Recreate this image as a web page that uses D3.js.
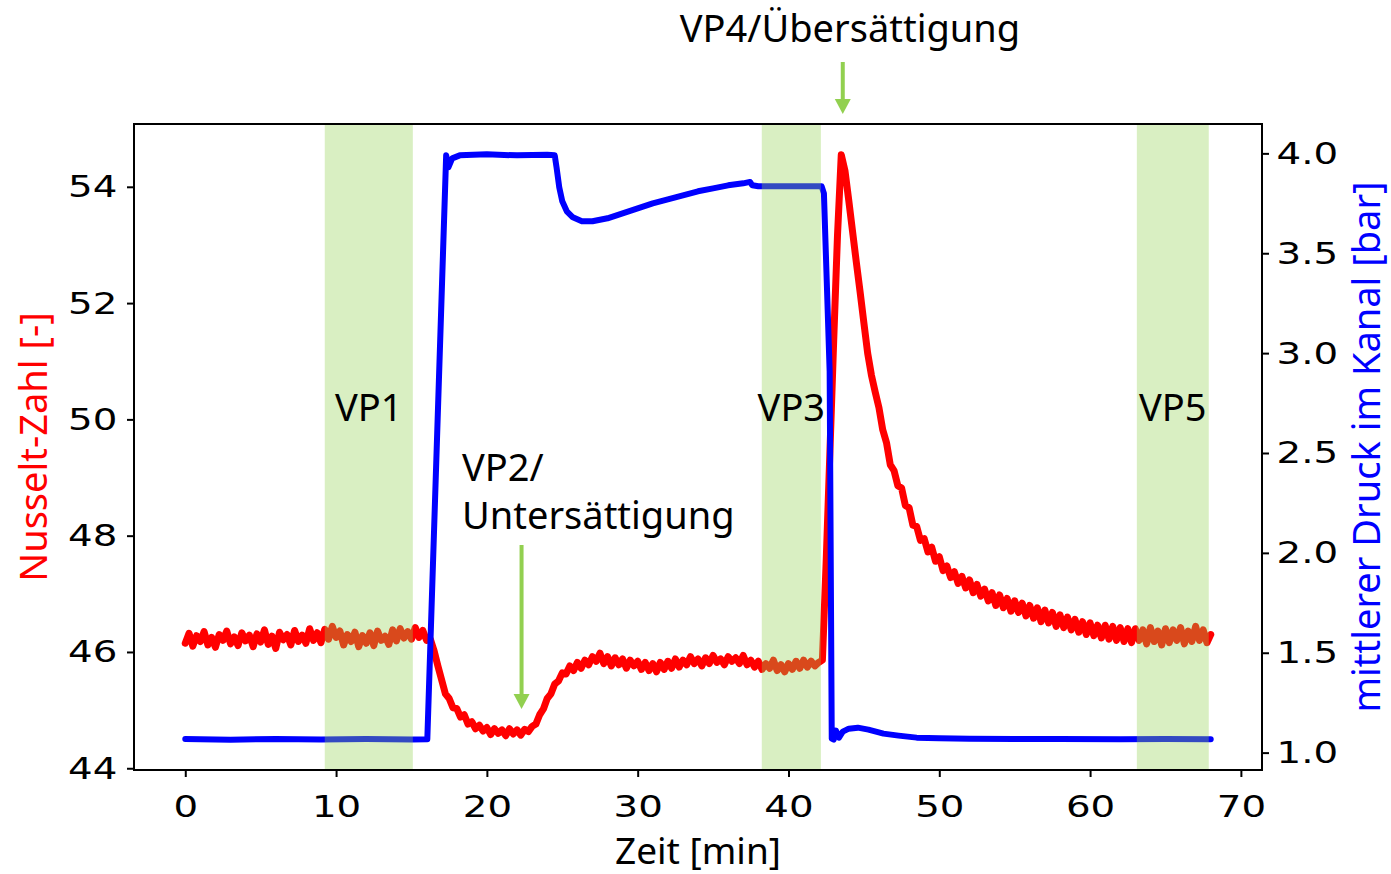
<!DOCTYPE html>
<html>
<head>
<meta charset="utf-8">
<script src="https://cdn.jsdelivr.net/npm/d3@7"></script>
<style>
  body { margin: 0; background: #fff; }
  svg { display: block; }
</style>
</head>
<body>
<svg id="chart" width="1391" height="874"></svg>
<script>
// Nusselt number, sampled every 0.25 min starting at t = 0 (one row per minute)
const nusseltStart = 0;
const nusseltStep = 0.25;
const nusseltValues = [
  46.15, 46.32, 46.10, 46.28,
  46.18, 46.35, 46.12, 46.25,
  46.08, 46.30, 46.20, 46.36,
  46.14, 46.26, 46.11, 46.33,
  46.19, 46.29, 46.09, 46.31,
  46.17, 46.38, 46.13, 46.27,
  46.06, 46.34, 46.21, 46.30,
  46.12, 46.37, 46.18, 46.29,
  46.15, 46.40, 46.20, 46.33,
  46.16, 46.39, 46.22, 46.44,
  46.25, 46.36, 46.12, 46.30,
  46.18, 46.34, 46.09, 46.28,
  46.15, 46.33, 46.11, 46.36,
  46.20, 46.27, 46.13, 46.38,
  46.19, 46.40, 46.24, 46.35,
  46.22, 46.42, 46.25, 46.37,
  46.20, 46.22, 46.02, 45.76,
  45.52, 45.28, 45.20, 45.04,
  45.03, 44.88, 44.92, 44.76,
  44.80, 44.68, 44.74, 44.64,
  44.70, 44.58, 44.68, 44.60,
  44.66, 44.56, 44.68, 44.59,
  44.66, 44.57, 44.67, 44.63,
  44.72, 44.76, 44.92, 45.02,
  45.20, 45.28, 45.45, 45.50,
  45.64, 45.62, 45.76, 45.68,
  45.82, 45.72, 45.86, 45.78,
  45.92, 45.84, 45.98, 45.80,
  45.92, 45.76, 45.90, 45.78,
  45.88, 45.72, 45.86, 45.76,
  45.84, 45.70, 45.82, 45.68,
  45.80, 45.66, 45.82, 45.70,
  45.84, 45.72, 45.88, 45.74,
  45.86, 45.78, 45.92, 45.80,
  45.88, 45.76, 45.90, 45.80,
  45.94, 45.82, 45.88, 45.78,
  45.92, 45.84, 45.90, 45.80,
  45.94, 45.78, 45.86, 45.74,
  45.84, 45.70, 45.80, 45.72,
  45.86, 45.68, 45.78, 45.66,
  45.80, 45.70, 45.84, 45.72,
  45.86, 45.74, 45.84, 45.76,
  45.82, 45.86, 47.56, 49.46,
  51.37, 53.16, 54.55, 54.27,
  53.76, 53.23, 52.70, 52.19,
  51.66, 51.14, 50.76, 50.47,
  50.20, 49.82, 49.60, 49.22,
  49.12, 48.86, 48.82, 48.52,
  48.48, 48.18, 48.16, 47.92,
  47.95, 47.72, 47.80, 47.56,
  47.64, 47.40, 47.48, 47.28,
  47.38, 47.18, 47.30, 47.10,
  47.24, 47.02, 47.16, 46.96,
  47.08, 46.88, 47.02, 46.80,
  46.98, 46.76, 46.92, 46.70,
  46.88, 46.68, 46.84, 46.62,
  46.80, 46.58, 46.76, 46.52,
  46.72, 46.50, 46.68, 46.44,
  46.64, 46.42, 46.60, 46.38,
  46.56, 46.34, 46.52, 46.30,
  46.50, 46.28, 46.46, 46.24,
  46.46, 46.22, 46.44, 46.20,
  46.42, 46.18, 46.40, 46.16,
  46.40, 46.20, 46.38, 46.14,
  46.42, 46.18, 46.36, 46.12,
  46.40, 46.16, 46.38, 46.20,
  46.42, 46.14, 46.36, 46.18,
  46.44, 46.20, 46.38, 46.16,
  46.30
];

// Mean channel pressure [bar]
const pressureTime = [0, 3, 6, 9, 12, 15, 16.05, 17.3, 17.45, 17.7, 18.2, 20, 22, 24, 24.5,
  24.62, 24.8, 25.0, 25.3, 25.7, 26.3, 27, 28, 29, 30, 31, 32, 33, 34, 35, 36, 37, 37.45,
  37.6, 38, 40, 42.2, 42.35, 42.73, 42.87, 43.0, 43.15, 43.35, 43.6, 44.0, 44.6, 45.3,
  46.3, 47.3, 48.5, 50, 52, 55, 58, 62, 65, 68];
const pressureValue = [1.068, 1.065, 1.068, 1.066, 1.068, 1.066, 1.067, 3.99, 3.93, 3.975, 3.99, 3.995, 3.99, 3.993, 3.99,
  3.93, 3.83, 3.76, 3.71, 3.68, 3.66, 3.66, 3.675, 3.70, 3.725, 3.75, 3.77, 3.79, 3.81, 3.825, 3.84, 3.85, 3.857,
  3.84, 3.835, 3.835, 3.835, 3.80, 2.91, 1.07, 1.065, 1.11, 1.075, 1.105, 1.12, 1.125, 1.115,
  1.095, 1.085, 1.075, 1.072, 1.07, 1.068, 1.068, 1.067, 1.068, 1.067];

// Steady operating points (shaded time windows)
const bandLabel = ["VP1", "VP3", "VP5"];
const bandStart = [9.25, 38.23, 63.1];
const bandEnd = [15.09, 42.15, 67.87];

// Axis ticks
const timeTicks = [0, 10, 20, 30, 40, 50, 60, 70];
const nusseltTicks = [44, 46, 48, 50, 52, 54];
const pressureTicks = [1.0, 1.5, 2.0, 2.5, 3.0, 3.5, 4.0];

// Arrow annotations
const arrowTime = [22.3, 43.6];

// ---- layout ----
const plot = { left: 134, right: 1262, top: 124, bottom: 770 };
const svg = d3.select("#chart");

const x = d3.scaleLinear().domain([-3.4, 71.4]).range([plot.left, plot.right]);
const yNu = d3.scaleLinear().domain([43.97, 55.08]).range([plot.bottom, plot.top]);
const yP = d3.scaleLinear().domain([0.913, 4.147]).range([plot.bottom, plot.top]);

const labelFont = "'Noto Sans', 'Open Sans', sans-serif";
const tickFont = "'DejaVu Sans', sans-serif";
const green = "#92d050";

svg.append("rect").attr("width", 1391).attr("height", 874).attr("fill", "#fff");

svg.append("clipPath").attr("id", "plot-clip")
  .append("rect")
  .attr("x", plot.left).attr("y", plot.top)
  .attr("width", plot.right - plot.left).attr("height", plot.bottom - plot.top);

// Nusselt number (left axis)
const nusseltSeries = nusseltValues.map((v, i) => ({ t: nusseltStart + i * nusseltStep, v }));
svg.append("path")
  .datum(nusseltSeries)
  .attr("clip-path", "url(#plot-clip)")
  .attr("fill", "none")
  .attr("stroke", "#ff0000")
  .attr("stroke-width", 7)
  .attr("stroke-linejoin", "round")
  .attr("stroke-linecap", "round")
  .attr("d", d3.line().x(d => x(d.t)).y(d => yNu(d.v)));

// Pressure (right axis)
const pressureSeries = pressureTime.map((t, i) => ({ t, v: pressureValue[i] }));
svg.append("path")
  .datum(pressureSeries)
  .attr("clip-path", "url(#plot-clip)")
  .attr("fill", "none")
  .attr("stroke", "#0000ff")
  .attr("stroke-width", 6)
  .attr("stroke-linejoin", "round")
  .attr("stroke-linecap", "round")
  .attr("d", d3.line().x(d => x(d.t)).y(d => yP(d.v)));

// Shaded operating-point windows
svg.append("g").selectAll("rect")
  .data(bandLabel)
  .join("rect")
  .attr("x", (d, i) => x(bandStart[i]))
  .attr("y", plot.top)
  .attr("width", (d, i) => x(bandEnd[i]) - x(bandStart[i]))
  .attr("height", plot.bottom - plot.top)
  .attr("fill", green)
  .attr("fill-opacity", 0.35);

// Axes
function styleAxis(g, sx) {
  g.select(".domain").remove();
  g.selectAll(".tick line").attr("stroke", "#000").attr("stroke-width", 2);
  g.selectAll(".tick text")
    .attr("fill", "#000")
    .style("font-family", tickFont)
    .style("font-size", "31px")
    .attr("transform", `scale(${sx},1)`);
}

svg.append("g")
  .attr("transform", `translate(0,${plot.bottom})`)
  .call(d3.axisBottom(x).tickValues(timeTicks).tickSize(7).tickPadding(18).tickFormat(d3.format("d")))
  .call(g => styleAxis(g, 1.25));

svg.append("g")
  .attr("transform", `translate(${plot.left},0)`)
  .call(d3.axisLeft(yNu).tickValues(nusseltTicks).tickSize(7).tickPadding(6.3).tickFormat(d3.format("d")))
  .call(g => styleAxis(g, 1.25));

svg.append("g")
  .attr("transform", `translate(${plot.right},0)`)
  .call(d3.axisRight(yP).tickValues(pressureTicks).tickSize(7).tickPadding(4.6).tickFormat(d3.format(".1f")))
  .call(g => styleAxis(g, 1.25));

// Frame
svg.append("rect")
  .attr("x", plot.left).attr("y", plot.top)
  .attr("width", plot.right - plot.left).attr("height", plot.bottom - plot.top)
  .attr("fill", "none").attr("stroke", "#000").attr("stroke-width", 2);

// Axis titles
svg.append("text")
  .attr("x", (plot.left + plot.right) / 2).attr("y", 864)
  .attr("text-anchor", "middle")
  .style("font-family", labelFont).style("font-size", "37px")
  .attr("fill", "#000")
  .text("Zeit [min]");

svg.append("text")
  .attr("transform", `translate(47,${(plot.top + plot.bottom) / 2}) rotate(-90)`)
  .attr("text-anchor", "middle")
  .style("font-family", labelFont).style("font-size", "38px")
  .attr("fill", "#ff0000")
  .text("Nusselt-Zahl [-]");

svg.append("text")
  .attr("transform", `translate(1380,${(plot.top + plot.bottom) / 2}) rotate(-90)`)
  .attr("text-anchor", "middle")
  .style("font-family", labelFont).style("font-size", "38px")
  .attr("fill", "#0000ff")
  .text("mittlerer Druck im Kanal [bar]");

// Operating-point labels
svg.append("g").selectAll("text")
  .data(bandLabel)
  .join("text")
  .attr("x", (d, i) => x((bandStart[i] + bandEnd[i]) / 2))
  .attr("y", 421)
  .attr("text-anchor", "middle")
  .style("font-family", labelFont).style("font-size", "38px")
  .attr("fill", "#000")
  .text(d => d);

const vp2 = svg.append("text")
  .style("font-family", labelFont).style("font-size", "38px")
  .attr("fill", "#000");
vp2.append("tspan").attr("x", 462).attr("y", 481).text("VP2/");
vp2.append("tspan").attr("x", 462).attr("y", 529).text("Untersättigung");

svg.append("text")
  .attr("x", 850).attr("y", 42)
  .attr("text-anchor", "middle")
  .style("font-family", labelFont).style("font-size", "38px")
  .attr("fill", "#000")
  .text("VP4/Übersättigung");

// Downward arrows
function arrow(xp, y0, yTip) {
  const head = 15, half = 8;
  svg.append("line")
    .attr("x1", xp).attr("x2", xp)
    .attr("y1", y0).attr("y2", yTip - head + 1)
    .attr("stroke", green).attr("stroke-width", 4);
  svg.append("path")
    .attr("d", `M${xp - half},${yTip - head}L${xp + half},${yTip - head}L${xp},${yTip}Z`)
    .attr("fill", green);
}
arrow(x(arrowTime[0]), 545, 709);
arrow(x(arrowTime[1]), 62, 114);
</script>
</body>
</html>
